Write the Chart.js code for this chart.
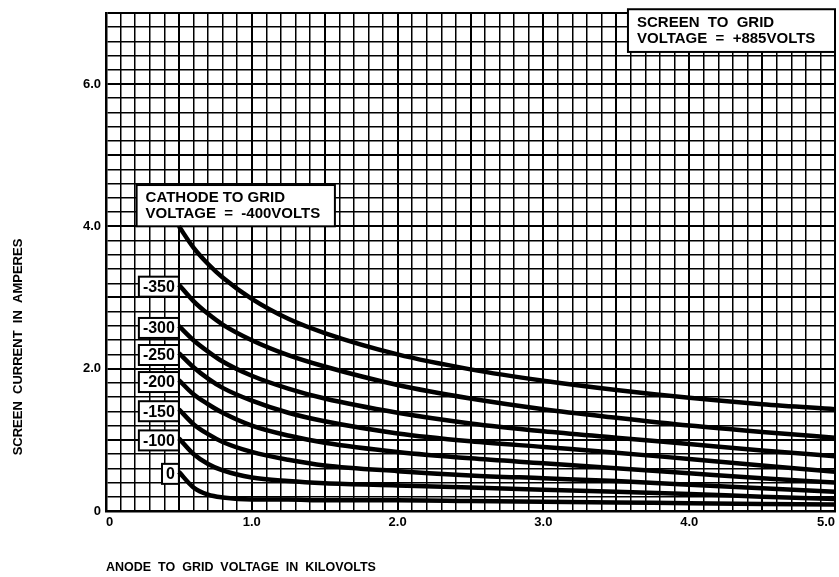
<!DOCTYPE html>
<html>
<head>
<meta charset="utf-8">
<script src="https://cdn.jsdelivr.net/npm/chart.js@4/dist/chart.umd.min.js"></script>
<style>
  body { margin: 0; background: #fff; }
  canvas { display: block; }
</style>
</head>
<body>
<canvas id="screenChart" width="839" height="577"></canvas>
<script>
const anodeKv = [0.5, 0.6, 0.7, 0.8, 1.0, 1.25, 1.5, 2.0, 2.5, 3.0, 3.5, 4.0, 4.5, 5.0];

// cathode to grid voltage of each curve
const gridVolts = ['-400', '-350', '-300', '-250', '-200', '-150', '-100', '0'];

// screen current in amperes, one list per curve
const amps400 = [4.0, 3.7, 3.47, 3.28, 2.98, 2.7, 2.5, 2.2, 1.99, 1.83, 1.7, 1.59, 1.5, 1.43];
const amps350 = [3.18, 2.95, 2.77, 2.62, 2.4, 2.19, 2.03, 1.77, 1.58, 1.43, 1.31, 1.2, 1.11, 1.03];
const amps300 = [2.6, 2.4, 2.24, 2.1, 1.9, 1.72, 1.58, 1.38, 1.23, 1.12, 1.03, 0.94, 0.85, 0.77];
const amps250 = [2.22, 2.02, 1.86, 1.73, 1.55, 1.38, 1.26, 1.09, 0.98, 0.9, 0.82, 0.73, 0.64, 0.55];
const amps200 = [1.84, 1.64, 1.5, 1.38, 1.2, 1.06, 0.96, 0.83, 0.74, 0.67, 0.6, 0.53, 0.46, 0.4];
const amps150 = [1.43, 1.22, 1.08, 0.97, 0.83, 0.72, 0.64, 0.56, 0.5, 0.46, 0.42, 0.37, 0.32, 0.27];
const amps100 = [1.02, 0.8, 0.66, 0.57, 0.47, 0.42, 0.39, 0.36, 0.33, 0.3, 0.27, 0.24, 0.2, 0.17];
const amps0   = [0.55, 0.33, 0.23, 0.19, 0.16, 0.16, 0.15, 0.15, 0.14, 0.13, 0.12, 0.11, 0.1, 0.09];

const curves = [amps400, amps350, amps300, amps250, amps200, amps150, amps100, amps0];

// labelled ticks
const xTickLabels = ['0', '1.0', '2.0', '3.0', '4.0', '5.0'];
const yTickLabels = ['0', '2.0', '4.0', '6.0'];

const FONT = '"Liberation Sans", Arial, sans-serif';

function tickText(labels) {
    return function(value) {
        const hit = labels.find(l => Math.abs(parseFloat(l) - value) < 1e-6);
        return hit === undefined ? '' : hit;
    };
}

// boxes with the curve names and the two notes
const notes = {
    id: 'notes',
    beforeDatasetsDraw(chart) {
        const {ctx, scales: {x, y}} = chart;
        ctx.save();
        ctx.strokeStyle = '#000';
        ctx.lineWidth = 2;
        ctx.textBaseline = 'middle';

        ctx.font = 'bold 16px ' + FONT;
        ctx.textAlign = 'center';
        chart.data.datasets.forEach((ds, i) => {
            if (i === 0) return;
            const pt = chart.getDatasetMeta(i).data[0];
            const w = ctx.measureText(ds.label).width + 8;
            const h = 20;
            const top = pt.y - h / 2 + 2;
            ctx.fillStyle = '#fff';
            ctx.fillRect(pt.x - w, top, w, h);
            ctx.strokeRect(pt.x - w, top, w, h);
            ctx.fillStyle = '#000';
            ctx.fillText(ds.label, pt.x - w / 2, top + h / 2 + 1);
        });

        const box = (x0, x1, y0, y1, lines) => {
            const l = x.getPixelForValue(x0), r = x.getPixelForValue(x1);
            const t = y.getPixelForValue(y0), b = y.getPixelForValue(y1);
            ctx.fillStyle = '#fff';
            ctx.fillRect(l, t, r - l, b - t);
            ctx.strokeRect(l, t, r - l, b - t);
            ctx.fillStyle = '#000';
            ctx.font = 'bold 15px ' + FONT;
            ctx.textAlign = 'left';
            const mid = (t + b) / 2;
            ctx.fillText(lines[0], l + 9, mid - 8);
            ctx.fillText(lines[1], l + 9, mid + 8);
        };
        box(0.21, 1.57, 4.58, 4.0, ['CATHODE TO GRID', 'VOLTAGE  =  -400VOLTS']);
        box(3.58, 5.0, 7.05, 6.45, ['SCREEN  TO  GRID', 'VOLTAGE  =  +885VOLTS']);
        ctx.restore();
    },
    afterDraw(chart) {
        const ctx = chart.ctx;
        ctx.save();
        ctx.font = 'bold 13px ' + FONT;
        ctx.fillStyle = '#000';
        ctx.textAlign = 'center';
        ctx.textBaseline = 'middle';
        ctx.translate(18, 347);
        ctx.rotate(-Math.PI / 2);
        ctx.fillText('SCREEN  CURRENT  IN  AMPERES', 0, 0);
        ctx.restore();
    }
};

const ctx = document.getElementById('screenChart').getContext('2d');
new Chart(ctx, {
    type: 'line',
    data: {
        labels: anodeKv,
        datasets: curves.map((vals, i) => ({
            label: gridVolts[i],
            data: anodeKv.map((v, j) => ({x: v, y: vals[j]})),
            borderColor: '#000',
            borderWidth: 4.5,
            pointRadius: 0,
            fill: false,
            cubicInterpolationMode: 'monotone'
        }))
    },
    options: {
        responsive: false,
        animation: false,
        layout: { padding: { top: 8, right: 3, left: 0, bottom: 0 } },
        plugins: {
            legend: { display: false },
            tooltip: { enabled: false }
        },
        scales: {
            x: {
                type: 'linear',
                min: 0,
                max: 5,
                afterFit(scale) { scale.height = 66; },
                ticks: {
                    stepSize: 0.1,
                    autoSkip: false,
                    maxRotation: 0,
                    align: 'inner',
                    padding: 4,
                    color: '#000',
                    font: { family: FONT, size: 13, weight: 'bold' },
                    callback: tickText(xTickLabels)
                },
                grid: {
                    color: '#000',
                    drawTicks: false,
                    lineWidth: c => (Math.abs(c.tick.value * 2 - Math.round(c.tick.value * 2)) < 1e-6 ? 2 : 1.5)
                },
                border: { color: '#000', width: 2.5 },
                title: {
                    display: true,
                    text: 'ANODE  TO  GRID  VOLTAGE  IN  KILOVOLTS',
                    align: 'start',
                    color: '#000',
                    font: { family: FONT, size: 12.5, weight: 'bold' },
                    padding: { top: 0, bottom: 2 }
                }
            },
            y: {
                min: 0,
                max: 7,
                afterFit(scale) { scale.width = 106; },
                ticks: {
                    stepSize: 0.2,
                    autoSkip: false,
                    padding: 5,
                    color: '#000',
                    font: { family: FONT, size: 13, weight: 'bold' },
                    callback: tickText(yTickLabels)
                },
                grid: {
                    color: '#000',
                    drawTicks: false,
                    lineWidth: c => (Math.abs(c.tick.value - Math.round(c.tick.value)) < 1e-6 ? 2 : 1.5)
                },
                border: { color: '#000', width: 2.5 }
            }
        }
    },
    plugins: [notes]
});
</script>
</body>
</html>
